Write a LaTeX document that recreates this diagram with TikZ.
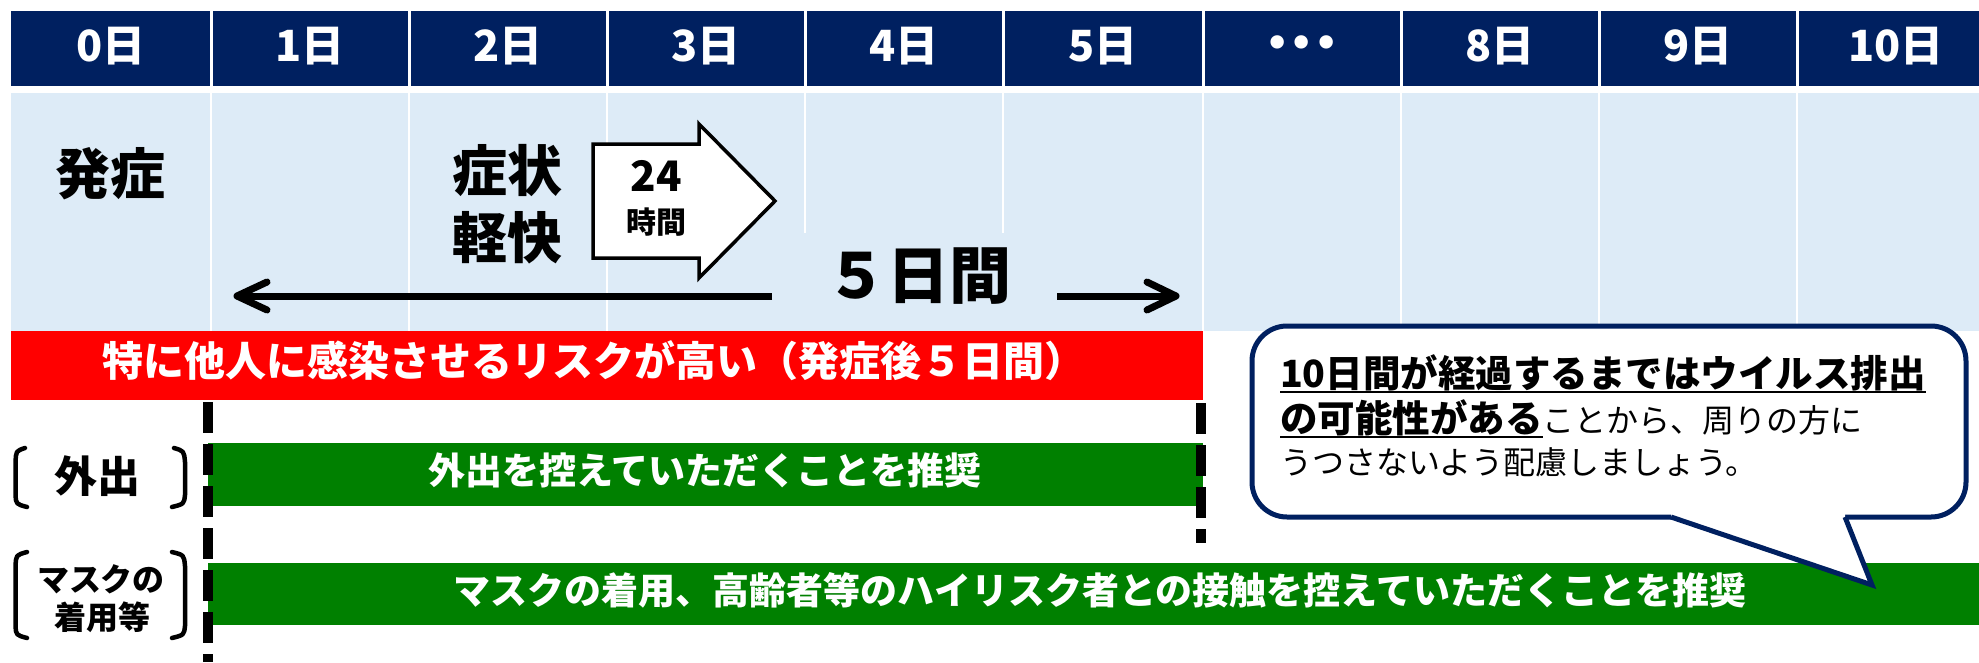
\documentclass[tikz,border=0pt]{standalone}
\usepackage{fontspec}
\setmainfont{Noto Sans CJK JP}
\newfontfamily\dejavu{DejaVu Sans}
\usetikzlibrary{calc}
\definecolor{navy}{RGB}{0,32,96}
\definecolor{paleblue}{RGB}{221,235,247}
\definecolor{pgreen}{RGB}{0,128,0}
\definecolor{pred}{RGB}{255,0,0}
\newcommand{\fsz}[1]{\fontsize{#1}{#1}\selectfont}
\begin{document}
\begin{tikzpicture}[x=1pt,y=-1pt,
  every node/.style={inner sep=0pt, outer sep=0pt},
  hdr/.style={text=white, font=\bfseries\fsz{43}},
  bigtxt/.style={font=\bfseries\fsz{55}},
  bartxt/.style={text=white, font=\bfseries\fsz{37}},
  risktxt/.style={text=white, font=\bfseries\fsz{41}},
  sidetxt/.style={font=\bfseries\fsz{43}},
  sidesmall/.style={font=\bfseries\fsz{32}},
  brk/.style={line width=4.5pt, line cap=round, line join=round},
  dashline/.style={line width=10pt, dash pattern=on 31pt off 11pt},
  calloutbox/.style={draw=navy, line width=5pt, fill=white, rounded corners=35pt, minimum width=714pt, minimum height=191pt},
  boldline/.style={font=\bfseries\fsz{37.5}, anchor=base west},
  plainline/.style={font=\fsz{32}, anchor=base west},
  blackarrow/.style={line width=7pt, line cap=round, line join=round},
]
\useasboundingbox (0,0) rectangle (1979,662);
\fill[white] (0,0) rectangle (1979,662);

% header row
\fill[navy] (11,11) rectangle (1979,86);
\foreach \x in {211,409,607,805,1003,1203,1401,1599,1797}
  \draw[white, line width=3pt] (\x,10) -- (\x,87);
\node[hdr] (d0) at (111,46) {0日};
\node[hdr] (d1) at (310,46) {1日};
\node[hdr] (d2) at (508,46) {2日};
\node[hdr] (d3) at (706,46) {3日};
\node[hdr] (d4) at (904,46) {4日};
\node[hdr] (d5) at (1103,46) {5日};
\node[text=white, font=\dejavu\bfseries\fsz{38}] (dots) at (1302,46) {•••};
\node[hdr] (d8) at (1500,46) {8日};
\node[hdr] (d9) at (1698,46) {9日};
\node[hdr] (d10) at (1896,46) {10日};

% light blue area
\fill[paleblue] (11,92.5) rectangle (1979,331);
\foreach \x in {211,409,607,805,1003,1203,1401,1599,1797}
  \draw[white, line width=2pt] (\x,92.5) -- (\x,331);
\fill[paleblue] (772,233) rectangle (1057,331);

\node[bigtxt] (onset) at (110,174) {発症};
\node[bigtxt] (sym1) at (507,171) {症状};
\node[bigtxt] (sym2) at (507,238) {軽快};

% 24 hour block arrow
\draw[line width=3.5pt, fill=white, line join=miter]
  (593,144) -- (699,144) -- (699,124) -- (775,201) -- (699,278) -- (699,258) -- (593,258) -- cycle;
\node[font=\bfseries\fsz{42}] (h24) at (656,176) {24};
\node[font=\bfseries\fsz{30}] (hrs) at (656,222) {時間};

% 5-day span arrow
\node[font=\bfseries\fsz{62}] (span) at (918,276) {５日間};
\coordinate (aLtip) at (237,296);
\coordinate (aLend) at (772,296);
\coordinate (aRstart) at (1057,296);
\coordinate (aRtip) at (1176,296);
\draw[line width=7pt] (aLend) -- (aLtip);
\draw[blackarrow] ($(aLtip)+(30,-14)$) -- (aLtip) -- ($(aLtip)+(30,14)$);
\draw[line width=7pt] (aRstart) -- (aRtip);
\draw[blackarrow] ($(aRtip)+(-29,-14)$) -- (aRtip) -- ($(aRtip)+(-29,14)$);

% red bar
\fill[pred] (11,331) rectangle (1203,400);
\node[risktxt] (risk) at (594,361) {特に他人に感染させるリスクが高い（発症後５日間）};

% green bars
\fill[pgreen] (208,443) rectangle (1203,506);
\node[bartxt] (goout) at (705,470) {外出を控えていただくことを推奨};
\fill[pgreen] (208,563) rectangle (1979,625);
\node[bartxt] (mask) at (1100,590) {マスクの着用、高齢者等のハイリスク者との接触を控えていただくことを推奨};

% dashed lines
\coordinate (dl1) at (208,402);
\coordinate (dl2) at (208,662);
\coordinate (dr1) at (1201,403);
\coordinate (dr2) at (1201,543);
\draw[dashline] (dl1) -- (dl2);
\draw[dashline] (dr1) -- (dr2);

% side labels with brackets
\node[sidetxt] (outlbl) at (97,476) {外出};
\draw[brk] (25,448) .. controls (16,451) .. (15.6,462) -- (15.6,495) .. controls (16,504) .. (27,507);
\draw[brk] (174,448) .. controls (184,451) .. (185,462) -- (185,495) .. controls (184,504) .. (172,507);
\node[sidesmall] (masklbl1) at (101,579) {マスクの};
\node[sidesmall] (masklbl2) at (102,617) {着用等};
\draw[brk] (27,552) .. controls (16,555) .. (15.6,566) -- (15.6,626) .. controls (16,635) .. (27,638);
\draw[brk] (172,552) .. controls (184,555) .. (185,566) -- (185,626) .. controls (184,635) .. (172,638);

% callout
\node[calloutbox] (bubble) at (1609,421.5) {};
\fill[white] (1671,511) -- (1671,517) -- (1872,585) -- (1845,517) -- (1845,511) -- cycle;
\coordinate (tailL) at (1671,517);
\coordinate (tailTip) at (1872,585);
\coordinate (tailR) at (1845,517);
\draw[navy, line width=5pt, line join=miter] (tailL) -- (tailTip) -- (tailR);

\node[boldline] (l1) at (1280,387) {10日間が経過するまではウイルス排出};
\draw[line width=2.5pt] ($(l1.base west)+(0,5)$) -- ($(l1.base east)+(0,5)$);
\node[boldline] (l2a) at (1280,432) {の可能性がある};
\draw[line width=2.5pt] ($(l2a.base west)+(0,5)$) -- ($(l2a.base east)+(0,5)$);
\node[plainline] (l2b) at (l2a.base east) {ことから、周りの方に};
\node[plainline] (l3) at (1280,474) {うつさないよう配慮しましょう。};
\end{tikzpicture}
\end{document}
